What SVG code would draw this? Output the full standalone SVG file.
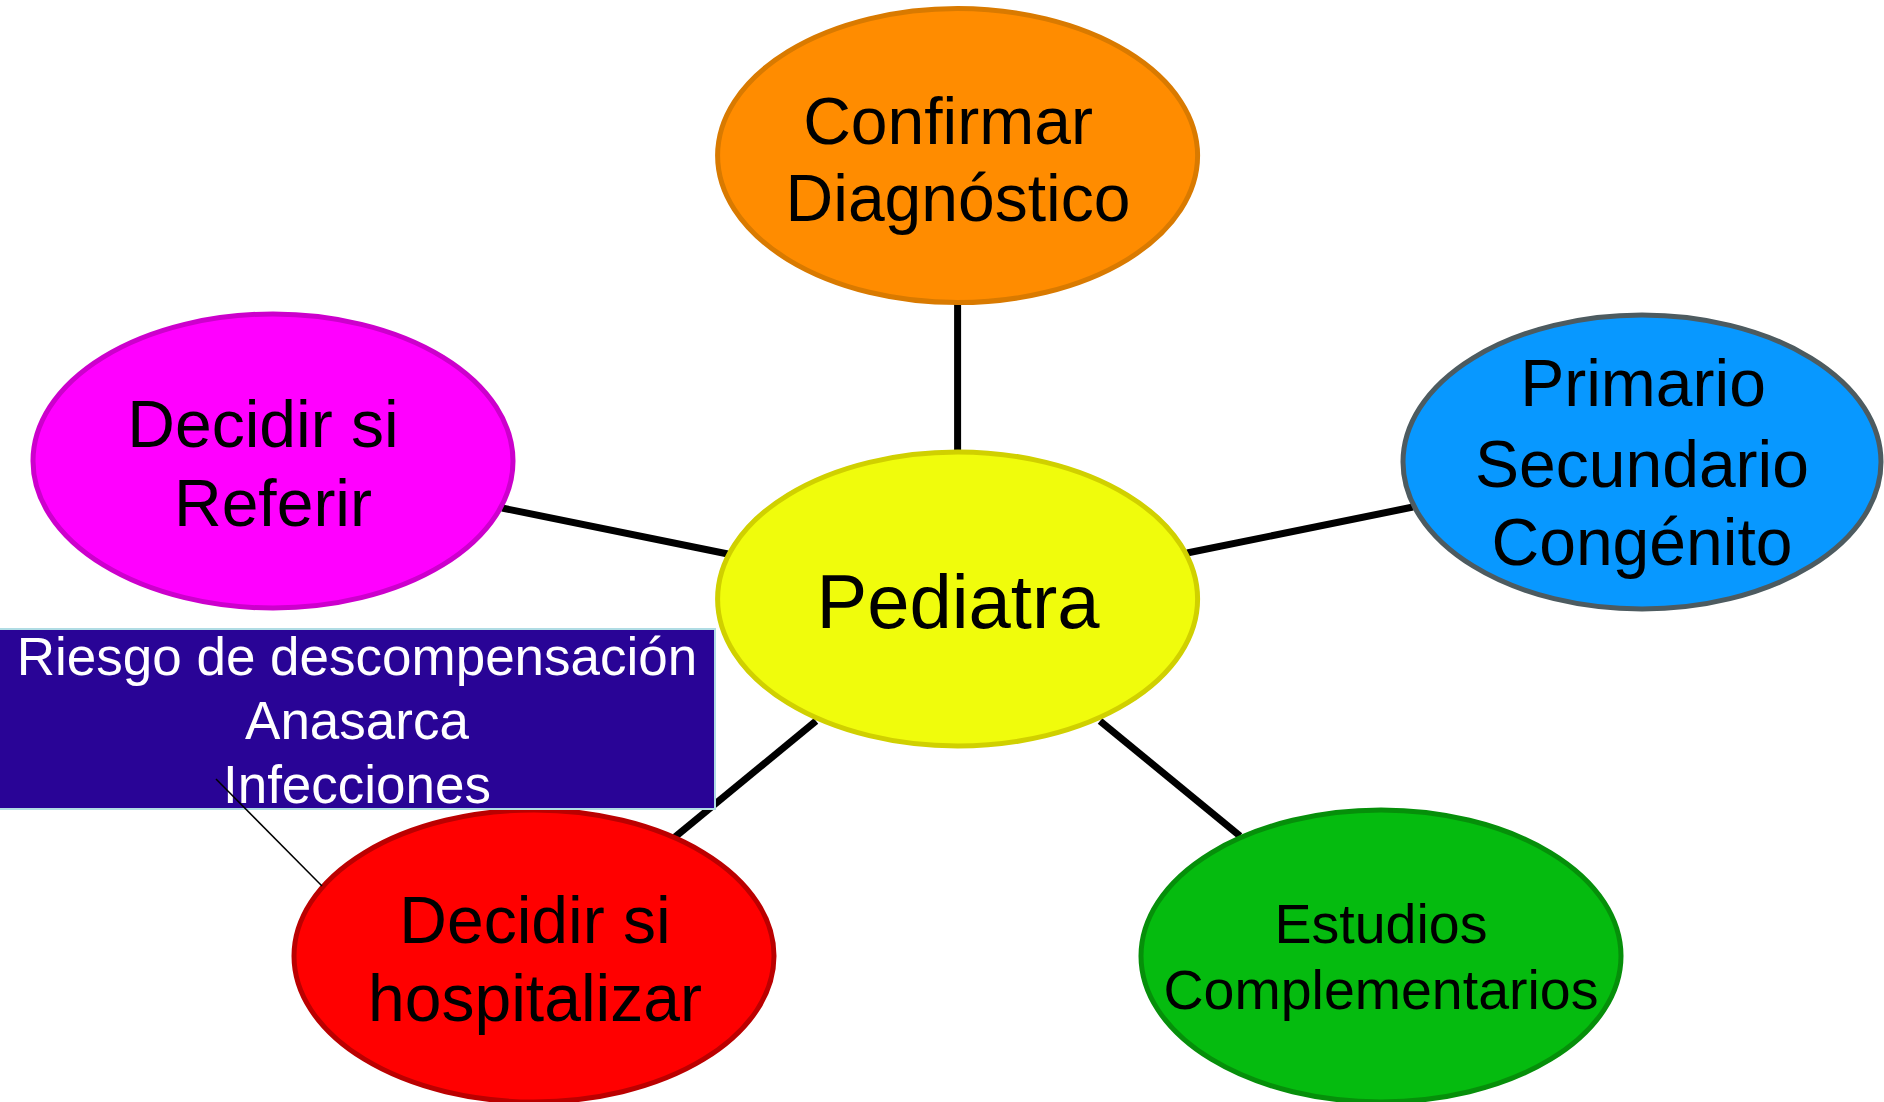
<svg xmlns="http://www.w3.org/2000/svg" width="1884" height="1102" viewBox="0 0 1884 1102">
<style>
text{font-family:"Liberation Sans",Arial,sans-serif;text-anchor:middle;fill:#000}
.conn line{stroke:#000;stroke-width:7}
.node ellipse{stroke-width:5}
.big{font-size:66px}
</style>
<rect width="1884" height="1102" fill="#fff"/>
<g class="conn" id="connectors">
<line x1="957.6" y1="304" x2="957.6" y2="452"/>
<line x1="502" y1="508" x2="728" y2="554"/>
<line x1="1187" y1="553" x2="1413" y2="507"/>
<line x1="816" y1="721" x2="675" y2="837"/>
<line x1="1100" y1="721" x2="1240" y2="836"/>
</g>
<g class="node" id="confirmar">
<ellipse cx="957.6" cy="155.6" rx="240" ry="147" fill="#ff8c00" stroke="#d97a00"/>
<text class="big" x="948" y="144">Confirmar</text>
<text class="big" x="958" y="221">Diagnóstico</text>
</g>
<g class="node" id="pediatra">
<ellipse cx="957.6" cy="599" rx="240" ry="147" fill="#f0fc0c" stroke="#d0d000"/>
<text x="958" y="628" font-size="76">Pediatra</text>
</g>
<g class="node" id="primario">
<ellipse cx="1642" cy="462" rx="239" ry="147" fill="#0898ff" stroke="#4d5b60"/>
<text class="big" x="1643" y="406">Primario</text>
<text class="big" x="1642" y="487">Secundario</text>
<text class="big" x="1642" y="565">Congénito</text>
</g>
<g class="node" id="referir">
<ellipse cx="273" cy="461" rx="240" ry="147" fill="#ff00ff" stroke="#cc00cc"/>
<text class="big" x="263" y="447">Decidir si</text>
<text class="big" x="273" y="526">Referir</text>
</g>
<g class="node" id="hospitalizar">
<ellipse cx="534" cy="956" rx="240" ry="146" fill="#ff0000" stroke="#bb0000"/>
<text class="big" x="535" y="943">Decidir si</text>
<text class="big" x="535" y="1021">hospitalizar</text>
</g>
<g class="node" id="estudios">
<ellipse cx="1381" cy="956" rx="240" ry="146" fill="#05bb0f" stroke="#068f0a"/>
<text x="1381" y="943" font-size="55.5">Estudios</text>
<text x="1381" y="1009" font-size="55.5">Complementarios</text>
</g>
<g class="node" id="riesgo">
<rect x="-3" y="629" width="718" height="180" fill="#290496" stroke="#b0dce4" stroke-width="2"/>
<text x="357" y="675" font-size="53" style="fill:#fff">Riesgo de descompensación</text>
<text x="357" y="739" font-size="53" style="fill:#fff">Anasarca</text>
<text x="357" y="803" font-size="53" style="fill:#fff">Infecciones</text>
</g>
<g id="callout">
<line x1="216" y1="779" x2="322" y2="886" stroke="#000" stroke-width="1.5"/>
</g>
</svg>
